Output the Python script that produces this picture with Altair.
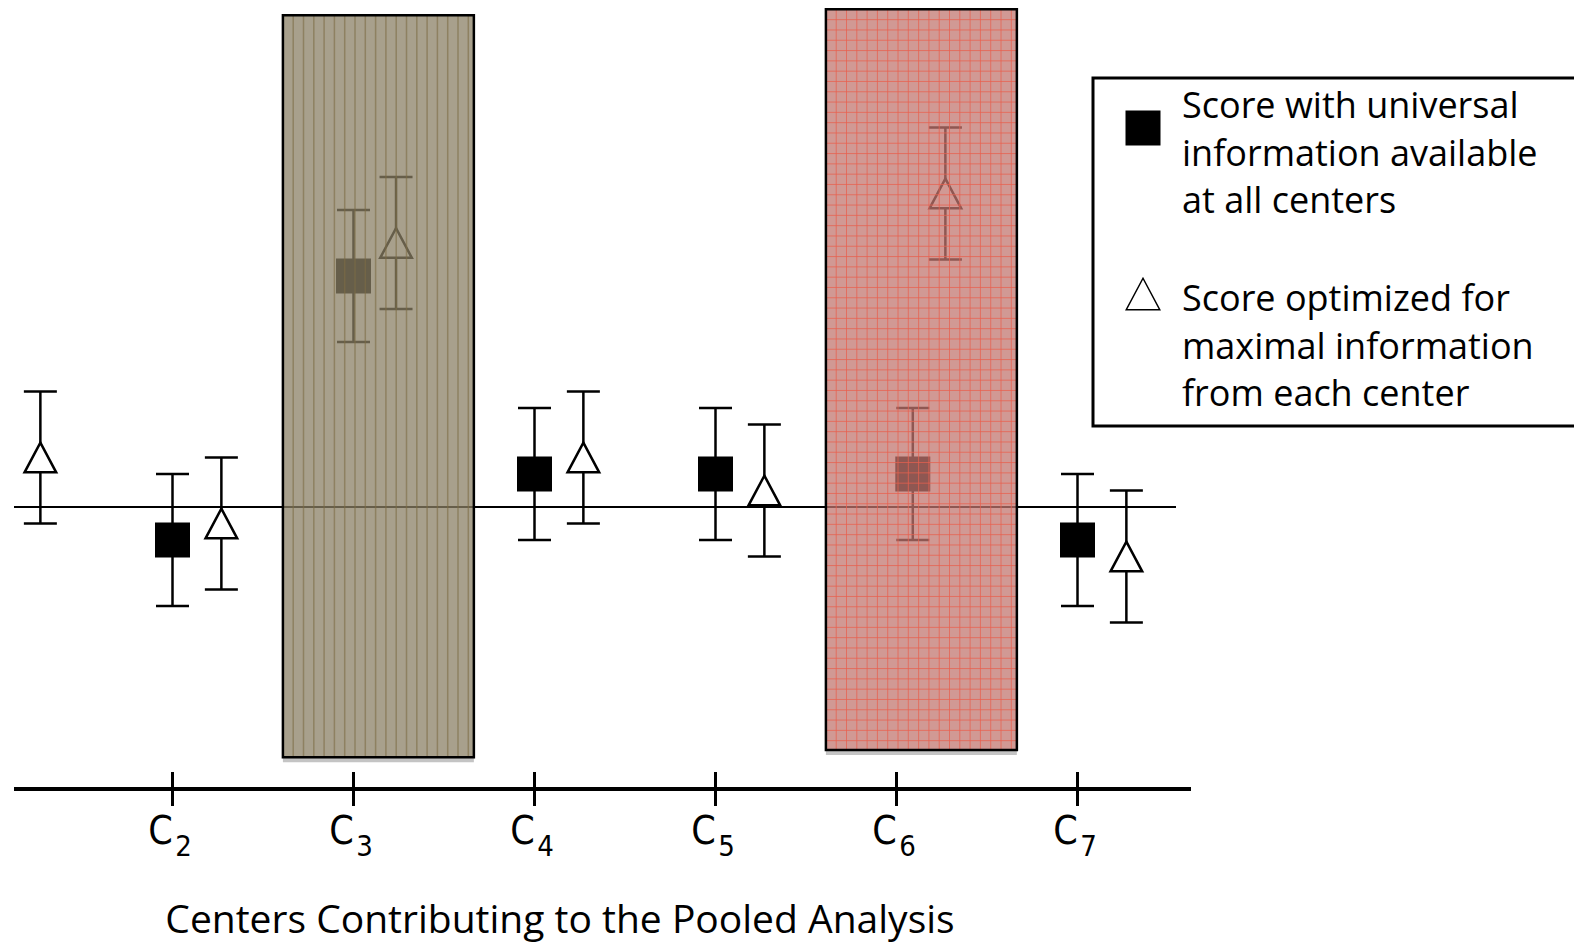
import altair as alt
import pandas as pd

# ---------------- data ----------------
# score units: the error half-width is 1 unit, 0 = horizontal reference line
square_center = [2, 3, 4, 5, 6, 7]
square_shift = [0.0, 0.0, 0.0, 0.0, 0.09, 0.0]
square_score = [-0.5, 3.5, 0.5, 0.5, 0.5, -0.5]
square_err = [1.0, 1.0, 1.0, 1.0, 1.0, 1.0]

triangle_center = [1, 2, 3, 4, 5, 6, 7]
triangle_shift = [0.27, 0.27, 0.235, 0.27, 0.27, 0.27, 0.27]
triangle_score = [0.75, -0.25, 4.0, 0.75, 0.25, 4.75, -0.75]
triangle_err = [1.0, 1.0, 1.0, 1.0, 1.0, 1.0, 1.0]

tick_center = [2, 3, 4, 5, 6, 7]
tick_main = ["C", "C", "C", "C", "C", "C"]
tick_sub = ["2", "3", "4", "5", "6", "7"]

highlight_center = [3, 6]
highlight_top = [7.45, 7.54]
highlight_bottom = [-3.79, -3.68]
highlight_fill = ["#8a7f64", "#c1756e"]

legend_square_label = ["Score with universal", "information available", "at all centers"]
legend_triangle_label = ["Score optimized for", "maximal information", "from each center"]
x_title = "Centers Contributing to the Pooled Analysis"

# ---------------- layout ----------------
W, H = 1566, 936
PX_CENTER = 181.0      # pixels between two centers
C2_PX = 164.5          # pixel position of C2 in the plot
PX_UNIT = 66.0         # pixels per score unit
ZERO_PX = 499.0        # pixel position of score 0


def xu(px):
    return 2 + (px - C2_PX) / PX_CENTER


def yu(px):
    return (ZERO_PX - px) / PX_UNIT


xs = alt.Scale(domain=[xu(0), xu(W)], nice=False, zero=False)
ys = alt.Scale(domain=[yu(H), yu(0)], nice=False, zero=False)

TRI = "M0,-0.94L1,0.94L-1,0.94Z"
FONT = "Open Sans"
NARROW = "Liberation Sans Narrow, Arial Narrow, DejaVu Sans Condensed, sans-serif"

sq = pd.DataFrame({
    "x": [c + s for c, s in zip(square_center, square_shift)],
    "score": square_score,
    "lo": [v - e for v, e in zip(square_score, square_err)],
    "hi": [v + e for v, e in zip(square_score, square_err)],
})
tri = pd.DataFrame({
    "x": [c + s for c, s in zip(triangle_center, triangle_shift)],
    "score": triangle_score,
    "lo": [v - e for v, e in zip(triangle_score, triangle_err)],
    "hi": [v + e for v, e in zip(triangle_score, triangle_err)],
})
pts = pd.concat([sq, tri], ignore_index=True)
caps = pd.concat([
    pd.DataFrame({"x": pts["x"], "v": pts["lo"]}),
    pd.DataFrame({"x": pts["x"], "v": pts["hi"]}),
], ignore_index=True)

hl = pd.DataFrame({
    "left": [c - 0.39 for c in highlight_center],
    "right": [c + 0.665 for c in highlight_center],
    "top": highlight_top,
    "bottom": highlight_bottom,
    "shadow": [b - 5 / PX_UNIT for b in highlight_bottom],
    "fill": highlight_fill,
})

# texture of the highlight boxes (decoration only)
step_x = 10.3 / PX_CENTER
step_y = 10.3 / PX_UNIT
stripe_rows = []
grid_v_rows = []
for i in range(1, 19):
    stripe_rows.append({"x": hl["left"][0] + i * step_x, "top": hl["top"][0], "bottom": hl["bottom"][0]})
    grid_v_rows.append({"x": hl["left"][1] + i * step_x, "top": hl["top"][1], "bottom": hl["bottom"][1]})
stripes = pd.DataFrame(stripe_rows)
grid_v = pd.DataFrame(grid_v_rows)
grid_h = pd.DataFrame({"y": [hl["top"][1] - j * step_y for j in range(1, 72)]})
grid_h["left"] = hl["left"][1]
grid_h["right"] = hl["right"][1]

ref_line = pd.DataFrame({"x": [xu(6)], "x2": [xu(1168)], "y": [0.0]})
axis_line = pd.DataFrame({"x": [xu(6)], "x2": [xu(1183)], "y": [yu(781)]})
ticks = pd.DataFrame({"x": tick_center, "y": [yu(781)] * len(tick_center),
                      "main": tick_main, "sub": tick_sub})
one = pd.DataFrame({"a": [0]})

X = alt.X("x:Q", scale=xs, axis=None)

ref = alt.Chart(ref_line).mark_rule(color="black", strokeWidth=2).encode(
    x=X, x2="x2:Q", y=alt.Y("y:Q", scale=ys, axis=None))

err = alt.Chart(pts).mark_rule(color="black", strokeWidth=2.5).encode(
    x=X, y=alt.Y("lo:Q", scale=ys, axis=None), y2="hi:Q")

capm = alt.Chart(caps).mark_tick(orient="horizontal", size=33, thickness=2.5,
                                 color="black", opacity=1).encode(
    x=X, y=alt.Y("v:Q", scale=ys, axis=None))

squares = alt.Chart(sq).mark_point(shape="square", filled=True, size=1225,
                                   color="black", opacity=1, strokeWidth=0).encode(
    x=X, y=alt.Y("score:Q", scale=ys, axis=None))

triangles = alt.Chart(tri).mark_point(shape=TRI, filled=True, fill="white", stroke="black",
                                      strokeWidth=2.5, size=1000, opacity=1).encode(
    x=X, y=alt.Y("score:Q", scale=ys, axis=None))

box_fill = alt.Chart(hl).mark_rect(fillOpacity=0.74, strokeWidth=0).encode(
    x=alt.X("left:Q", scale=xs, axis=None), x2="right:Q",
    y=alt.Y("top:Q", scale=ys, axis=None), y2="bottom:Q",
    fill=alt.Fill("fill:N", scale=None))

box_shadow = alt.Chart(hl).mark_rect(color="#c4c4c4", opacity=1).encode(
    x=alt.X("left:Q", scale=xs, axis=None), x2="right:Q",
    y=alt.Y("bottom:Q", scale=ys, axis=None), y2="shadow:Q")

stripe_m = alt.Chart(stripes).mark_rule(color="#7d6d45", strokeWidth=1.5, opacity=0.6).encode(
    x=X, y=alt.Y("top:Q", scale=ys, axis=None), y2="bottom:Q")

gridv_m = alt.Chart(grid_v).mark_rule(color="#e8604f", strokeWidth=1, opacity=0.75).encode(
    x=X, y=alt.Y("top:Q", scale=ys, axis=None), y2="bottom:Q")

gridh_m = alt.Chart(grid_h).mark_rule(color="#e8604f", strokeWidth=1, opacity=0.75).encode(
    x=alt.X("left:Q", scale=xs, axis=None), x2="right:Q",
    y=alt.Y("y:Q", scale=ys, axis=None))

box_border = alt.Chart(hl).mark_rect(fillOpacity=0, stroke="black", strokeWidth=2.5).encode(
    x=alt.X("left:Q", scale=xs, axis=None), x2="right:Q",
    y=alt.Y("top:Q", scale=ys, axis=None), y2="bottom:Q")

axis_m = alt.Chart(axis_line).mark_rule(color="black", strokeWidth=4).encode(
    x=X, x2="x2:Q", y=alt.Y("y:Q", scale=ys, axis=None))

tick_m = alt.Chart(ticks).mark_tick(orient="vertical", size=34, thickness=3,
                                    color="black", opacity=1).encode(
    x=X, y=alt.Y("y:Q", scale=ys, axis=None))

tick_c = alt.Chart(ticks).mark_text(font=NARROW, fontSize=39, align="center",
                                    baseline="alphabetic", dx=-12, color="black").encode(
    x=X, y=alt.value(836), text="main:N")

tick_s = alt.Chart(ticks).mark_text(font=NARROW, fontSize=29, align="center",
                                    baseline="alphabetic", dx=11, color="black").encode(
    x=X, y=alt.value(848), text="sub:N")

title_m = alt.Chart(one).mark_text(font=FONT, fontSize=39, align="center",
                                   baseline="alphabetic", color="black").encode(
    x=alt.value(552), y=alt.value(925), text=alt.value(x_title))

leg_box = alt.Chart(one).mark_rect(fill="white", stroke="black", strokeWidth=3).encode(
    x=alt.value(1085), x2=alt.value(W + 30), y=alt.value(70), y2=alt.value(418))

leg_sq = alt.Chart(one).mark_point(shape="square", filled=True, size=1225, color="black",
                                   opacity=1, strokeWidth=0).encode(
    x=alt.value(1135), y=alt.value(120))

leg_tri = alt.Chart(one).mark_point(shape=TRI, filled=True, fill="white", stroke="black",
                                    strokeWidth=1.5, size=1122, opacity=1).encode(
    x=alt.value(1135), y=alt.value(286))

leg_t1 = alt.Chart(one).mark_text(font=FONT, fontSize=36, align="left", baseline="alphabetic",
                                  lineBreak="\n", lineHeight=47.5, color="black").encode(
    x=alt.value(1174), y=alt.value(110), text=alt.value("\n".join(legend_square_label)))

leg_t2 = alt.Chart(one).mark_text(font=FONT, fontSize=36, align="left", baseline="alphabetic",
                                  lineBreak="\n", lineHeight=47.5, color="black").encode(
    x=alt.value(1174), y=alt.value(303), text=alt.value("\n".join(legend_triangle_label)))

chart = alt.layer(
    ref, err, capm, squares, triangles,
    box_shadow, box_fill, stripe_m, gridv_m, gridh_m, box_border,
    axis_m, tick_m, tick_c, tick_s, title_m,
    leg_box, leg_sq, leg_tri, leg_t1, leg_t2,
).properties(
    width=W, height=H, padding=0,
    autosize=alt.AutoSizeParams(type="none"),
    background="white",
).configure_view(stroke=None)

chart.save("out.html", embed_options={"renderer": "svg", "actions": False})
